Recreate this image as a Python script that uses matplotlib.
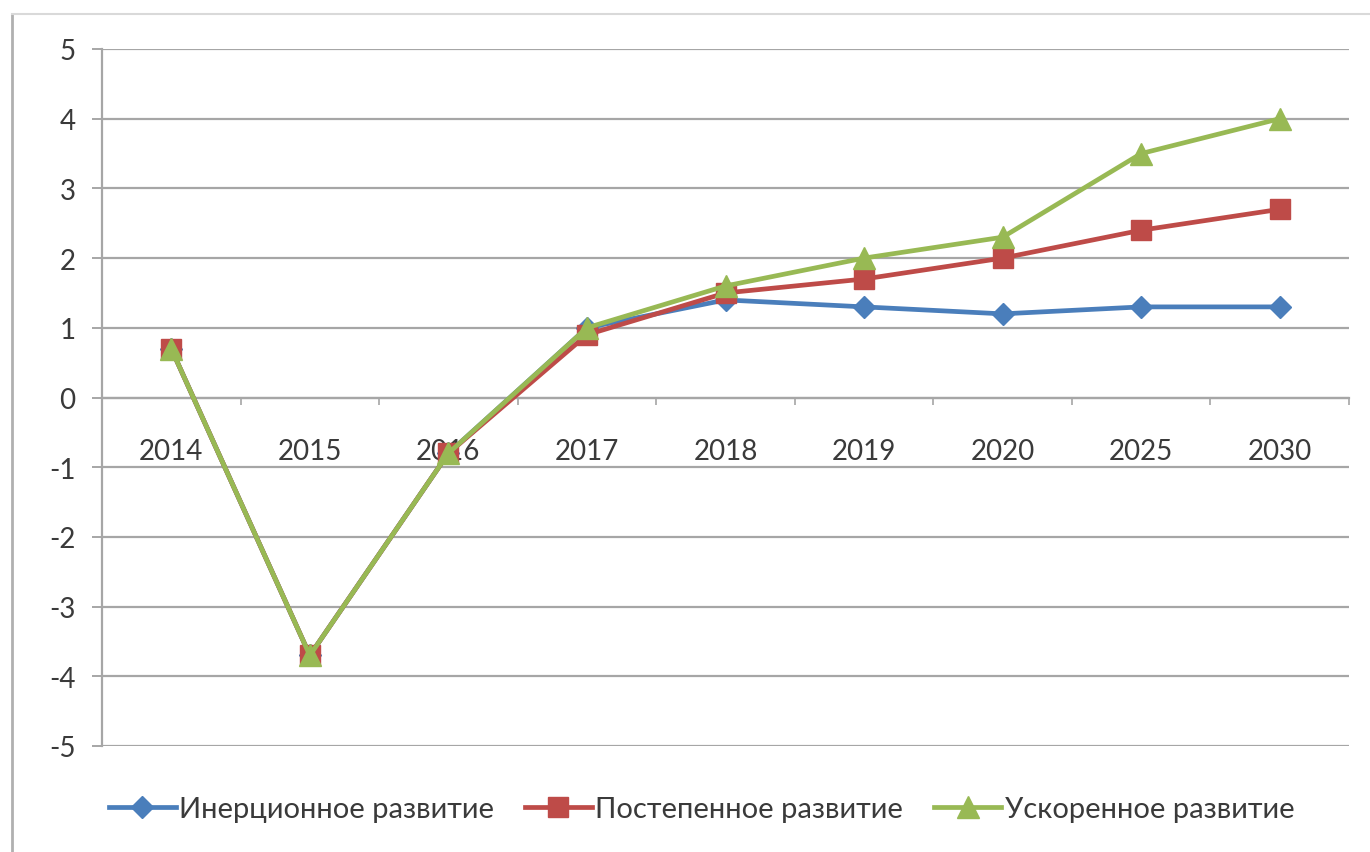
import matplotlib
matplotlib.use("Agg")
import matplotlib.pyplot as plt
from matplotlib.lines import Line2D
import numpy as np

years = ["2014", "2015", "2016", "2017", "2018", "2019", "2020", "2025", "2030"]
inertial = [0.7, -3.7, -0.8, 1.0, 1.4, 1.3, 1.2, 1.3, 1.3]
gradual = [0.7, -3.7, -0.8, 0.9, 1.5, 1.7, 2.0, 2.4, 2.7]
accelerated = [0.7, -3.7, -0.8, 1.0, 1.6, 2.0, 2.3, 3.5, 4.0]
names = ["Инерционное развитие", "Постепенное развитие", "Ускоренное развитие"]
yticks = [-5, -4, -3, -2, -1, 0, 1, 2, 3, 4, 5]

plt.rcParams['font.family'] = ['Lato', 'DejaVu Sans']
W, H = 1370, 853
fig = plt.figure(figsize=(W / 100, H / 100), dpi=100)
ax = fig.add_axes([102 / W, 1 - 747 / H, (1349 - 102) / W, (747 - 50) / H])

grid_c = "#a6a6a6"
text_c = "#3a3a3a"
x = np.arange(len(years))

ax.plot(x, inertial, color="#4A7EBB", lw=3.4, marker="D", ms=11, zorder=3, label=names[0])
ax.plot(x, gradual, color="#BE4B48", lw=3.4, marker="s", ms=15, zorder=4, label=names[1])
ax.plot(x, accelerated, color="#98B954", lw=3.4, marker="^", ms=16, zorder=5, label=names[2])

ax.set_xlim(-0.5, len(years) - 0.5)
ax.set_ylim(-5, 5)
ax.set_yticks(yticks)
ax.set_yticklabels([str(v) for v in yticks])
for v in yticks:
    ax.axhline(v, color=grid_c, lw=1.6, zorder=1)

for s in ["top", "right"]:
    ax.spines[s].set_visible(False)
ax.spines["left"].set_color(grid_c)
ax.spines["left"].set_linewidth(1.6)
ax.spines["bottom"].set_position(("data", 0))
ax.spines["bottom"].set_color(grid_c)
ax.spines["bottom"].set_linewidth(1.6)

ax.set_xticks(np.arange(-0.5, len(years), 1.0))
ax.set_xticklabels([])
ax.set_xticks(x, minor=True)
ax.set_xticklabels(years, minor=True)
ax.tick_params(axis="x", which="major", length=5, width=1.2, color=grid_c, direction="out")
ax.tick_params(axis="x", which="minor", length=0, pad=29, labelsize=20, labelcolor=text_c)
ax.tick_params(axis="y", length=7, width=1.4, color=grid_c, pad=12, labelsize=20, labelcolor=text_c)

leg = fig.legend(loc="center", bbox_to_anchor=(0.512, 1 - 810 / H), ncol=3, frameon=False,
                 fontsize=21, handlelength=2.3, columnspacing=1.05, handletextpad=0.12)
for t in leg.get_texts():
    t.set_color(text_c)

# chart border
fig.add_artist(Line2D([12 / W, 12 / W], [0, 1 - 15 / H], color="#b0b0b0", lw=2, transform=fig.transFigure))
fig.add_artist(Line2D([12 / W, 1], [1 - 15 / H, 1 - 15 / H], color="#d9d9d9", lw=1.5, transform=fig.transFigure))

fig.savefig("out.png", dpi=100)
